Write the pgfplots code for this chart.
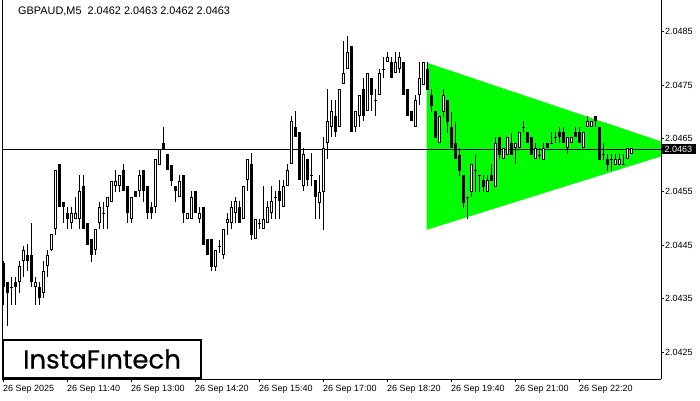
\documentclass[border=0pt]{standalone}
\usepackage{pgfplots}
\pgfplotsset{compat=1.18}
\usepackage{pgfplotstable}
\usepackage{fontspec}
\setmainfont{Liberation Sans}
\newfontfamily\poppins{Poppins}
\definecolor{trigreen}{RGB}{0,255,0}

\pgfplotstableread{
i o h l c
0 2.04416 2.04421 2.04339 2.04372
1 2.04381 2.04382 2.04299 2.04360
2 2.04372 2.04391 2.04339 2.04372
3 2.04381 2.04391 2.04339 2.04371
4 2.04381 2.04421 2.04360 2.04412
5 2.04421 2.04449 2.04391 2.04441
6 2.04432 2.04452 2.04401 2.04421
7 2.04432 2.04491 2.04371 2.04381
8 2.04371 2.04391 2.04339 2.04381
9 2.04371 2.04381 2.04339 2.04351
10 2.04360 2.04421 2.04351 2.04401
11 2.04412 2.04441 2.04391 2.04432
12 2.04441 2.04472 2.04440 2.04471
13 2.04480 2.04591 2.04470 2.04591
14 2.04602 2.04602 2.04521 2.04521
15 2.04531 2.04531 2.04491 2.04521
16 2.04511 2.04521 2.04480 2.04500
17 2.04491 2.04521 2.04480 2.04511
18 2.04500 2.04541 2.04500 2.04511
19 2.04500 2.04582 2.04480 2.04551
20 2.04561 2.04582 2.04480 2.04480
21 2.04491 2.04491 2.04450 2.04450
22 2.04461 2.04461 2.04419 2.04431
23 2.04441 2.04480 2.04431 2.04480
24 2.04491 2.04531 2.04480 2.04521
25 2.04511 2.04531 2.04480 2.04511
26 2.04521 2.04541 2.04480 2.04541
27 2.04531 2.04571 2.04531 2.04571
28 2.04561 2.04591 2.04550 2.04571
29 2.04561 2.04581 2.04550 2.04581
30 2.04591 2.04602 2.04551 2.04551
31 2.04561 2.04561 2.04491 2.04511
32 2.04500 2.04541 2.04491 2.04541
33 2.04551 2.04551 2.04541 2.04541
34 2.04551 2.04591 2.04541 2.04581
35 2.04591 2.04591 2.04531 2.04551
36 2.04561 2.04561 2.04500 2.04511
37 2.04521 2.04531 2.04500 2.04511
38 2.04521 2.04611 2.04511 2.04611
39 2.04601 2.04631 2.04601 2.04631
40 2.04641 2.04672 2.04631 2.04631
41 2.04621 2.04621 2.04591 2.04591
42 2.04601 2.04601 2.04561 2.04571
43 2.04561 2.04561 2.04531 2.04551
44 2.04541 2.04581 2.04541 2.04571
45 2.04581 2.04581 2.04491 2.04511
46 2.04500 2.04511 2.04500 2.04511
47 2.04500 2.04551 2.04500 2.04541
48 2.04551 2.04551 2.04511 2.04511
49 2.04500 2.04521 2.04491 2.04511
50 2.04521 2.04521 2.04450 2.04450
51 2.04461 2.04461 2.04431 2.04431
52 2.04461 2.04461 2.04401 2.04410
53 2.04410 2.04441 2.04401 2.04441
54 2.04449 2.04460 2.04435 2.04449
55 2.04432 2.04480 2.04425 2.04480
56 2.04491 2.04510 2.04469 2.04500
57 2.04491 2.04532 2.04481 2.04521
58 2.04511 2.04541 2.04491 2.04532
59 2.04521 2.04532 2.04491 2.04491
60 2.04500 2.04561 2.04500 2.04561
61 2.04572 2.04611 2.04552 2.04611
62 2.04602 2.04622 2.04460 2.04469
63 2.04461 2.04500 2.04461 2.04500
64 2.04491 2.04500 2.04481 2.04491
65 2.04481 2.04561 2.04481 2.04500
66 2.04491 2.04532 2.04491 2.04521
67 2.04511 2.04561 2.04500 2.04532
68 2.04541 2.04552 2.04500 2.04541
69 2.04552 2.04572 2.04500 2.04532
70 2.04521 2.04572 2.04521 2.04561
71 2.04561 2.04602 2.04561 2.04591
72 2.04602 2.04692 2.04602 2.04682
73 2.04672 2.04702 2.04652 2.04652
74 2.04662 2.04662 2.04572 2.04572
75 2.04561 2.04632 2.04552 2.04621
76 2.04611 2.04611 2.04561 2.04572
77 2.04582 2.04622 2.04561 2.04582
78 2.04572 2.04572 2.04500 2.04541
79 2.04530 2.04582 2.04500 2.04550
80 2.04550 2.04653 2.04479 2.04632
81 2.04641 2.04742 2.04611 2.04682
82 2.04672 2.04722 2.04652 2.04702
83 2.04692 2.04722 2.04652 2.04662
84 2.04672 2.04742 2.04672 2.04742
85 2.04752 2.04833 2.04752 2.04772
86 2.04781 2.04842 2.04781 2.04812
87 2.04823 2.04823 2.04662 2.04662
88 2.04672 2.04702 2.04662 2.04702
89 2.04692 2.04731 2.04672 2.04731
90 2.04742 2.04763 2.04682 2.04692
91 2.04702 2.04772 2.04702 2.04772
92 2.04763 2.04763 2.04702 2.04731
93 2.04722 2.04742 2.04692 2.04722
94 2.04731 2.04781 2.04731 2.04772
95 2.04781 2.04802 2.04763 2.04781
96 2.04793 2.04812 2.04793 2.04802
97 2.04793 2.04802 2.04763 2.04763
98 2.04772 2.04812 2.04772 2.04793
99 2.04781 2.04812 2.04772 2.04802
100 2.04793 2.04793 2.04731 2.04731
101 2.04742 2.04742 2.04692 2.04692
102 2.04702 2.04702 2.04682 2.04682
103 2.04672 2.04731 2.04672 2.04722
104 2.04731 2.04793 2.04713 2.04763
105 2.04750 2.04794 2.04750 2.04794
106 2.04781 2.04794 2.04741 2.04741
107 2.04731 2.04742 2.04700 2.04711
108 2.04701 2.04701 2.04651 2.04651
109 2.04641 2.04692 2.04641 2.04692
110 2.04700 2.04742 2.04691 2.04731
111 2.04722 2.04722 2.04661 2.04681
112 2.04672 2.04700 2.04632 2.04632
113 2.04641 2.04681 2.04611 2.04611
114 2.04620 2.04632 2.04580 2.04590
115 2.04582 2.04582 2.04520 2.04530
116 2.04541 2.04541 2.04499 2.04541
117 2.04550 2.04602 2.04541 2.04602
118 2.04591 2.04620 2.04550 2.04591
119 2.04582 2.04582 2.04550 2.04582
120 2.04572 2.04582 2.04550 2.04560
121 2.04550 2.04582 2.04550 2.04572
122 2.04582 2.04602 2.04571 2.04571
123 2.04560 2.04652 2.04560 2.04641
124 2.04652 2.04652 2.04611 2.04620
125 2.04611 2.04632 2.04611 2.04632
126 2.04620 2.04652 2.04620 2.04652
127 2.04641 2.04661 2.04620 2.04620
128 2.04632 2.04641 2.04602 2.04641
129 2.04632 2.04662 2.04632 2.04662
130 2.04671 2.04683 2.04661 2.04671
131 2.04662 2.04662 2.04641 2.04641
132 2.04652 2.04652 2.04620 2.04620
133 2.04611 2.04641 2.04611 2.04632
134 2.04620 2.04632 2.04611 2.04620
135 2.04610 2.04641 2.04610 2.04632
136 2.04641 2.04641 2.04632 2.04632
137 2.04641 2.04662 2.04640 2.04641
138 2.04652 2.04662 2.04641 2.04652
139 2.04662 2.04671 2.04641 2.04652
140 2.04662 2.04671 2.04641 2.04641
141 2.04632 2.04652 2.04621 2.04652
142 2.04641 2.04652 2.04641 2.04652
143 2.04662 2.04672 2.04652 2.04652
144 2.04662 2.04671 2.04641 2.04641
145 2.04632 2.04662 2.04632 2.04662
146 2.04671 2.04692 2.04671 2.04682
147 2.04671 2.04682 2.04671 2.04682
148 2.04692 2.04692 2.04671 2.04682
149 2.04671 2.04671 2.04610 2.04610
150 2.04621 2.04641 2.04610 2.04621
151 2.04611 2.04621 2.04590 2.04600
152 2.04611 2.04621 2.04590 2.04611
153 2.04600 2.04621 2.04600 2.04611
154 2.04600 2.04621 2.04600 2.04611
155 2.04602 2.04621 2.04600 2.04602
156 2.04611 2.04632 2.04611 2.04632
157 2.04621 2.04632 2.04621 2.04632
}\candles

\begin{document}
\begin{tikzpicture}[x=1pt,y=1pt]
\useasboundingbox (0,0) rectangle (700,400);
\fill[white] (0,0) rectangle (700,400);
\begin{axis}[
  at={(2pt,21pt)}, anchor=south west,
  scale only axis, width=659pt, height=379pt,
  xmin=-0.25, xmax=164.5, ymin=2.041995, ymax=2.049094,
  axis x line*=bottom, axis y line*=right,
  axis line style={black, line width=0.8pt},
  xtick={0,16,...,144},
  xticklabels={26 Sep 2025,26 Sep 11:40,26 Sep 13:00,26 Sep 14:20,26 Sep 15:40,26 Sep 17:00,26 Sep 18:20,26 Sep 19:40,26 Sep 21:00,26 Sep 22:20},
  ytick={2.0425,2.0435,2.0445,2.0455,2.0465,2.0475,2.0485},
  /pgf/number format/fixed,
  /pgf/number format/precision=4,
  /pgf/number format/fixed zerofill,
  /pgf/number format/assume math mode=true,
  tick align=outside, major tick length=3pt,
  tick style={black, line width=0.8pt},
  tick label style={font=\fontsize{9}{10}\selectfont},
  xticklabel style={anchor=north west, inner sep=0pt, xshift=0pt, yshift=-3.5pt},
  yticklabel style={anchor=west, inner sep=0pt, xshift=1pt},
]
% pattern triangle
\addplot[fill=trigreen, draw=none, forget plot] coordinates {(105.9,2.04792) (170.25,2.04630) (105.9,2.04479)};
% current price line
\addplot[black, line width=0.8pt, forget plot] coordinates {(-1,2.0463) (170,2.0463)};
% wicks
\addplot[draw=none, mark=none, forget plot,
  error bars/.cd, y dir=minus, y explicit, error mark=none,
  error bar style={draw=black, line width=1pt}]
  table[x=i, y=h, y error expr=\thisrow{h}-\thisrow{l}] {\candles};
% bodies outline / bearish fill
\addplot[draw=none, mark=none, forget plot,
  error bars/.cd, y dir=minus, y explicit, error mark=none,
  error bar style={draw=black, line width=3pt}]
  table[x=i, y expr={max(\thisrow{o},\thisrow{c})}, y error expr={max(abs(\thisrow{o}-\thisrow{c}),0.000019)}] {\candles};
% bullish inner fill
\addplot[draw=none, mark=none, forget plot,
  error bars/.cd, y dir=minus, y explicit, error mark=none,
  error bar style={draw=white, line width=1pt}]
  table[x=i, y expr={\thisrow{c}-0.0000187}, y error expr={max(\thisrow{c}-\thisrow{o}-0.0000374,0)}] {\candles};
\draw[black, line width=0.8pt] (rel axis cs:0,0) -- (rel axis cs:0,1);
\coordinate (pricept) at (axis cs:164.5,2.0463);
\end{axis}
\node[fill=black, text=white, anchor=west, inner xsep=4pt, inner ysep=1.8pt, font=\fontsize{9}{10}\selectfont] at ([xshift=-0.5pt]pricept) {2.0463};
\node[anchor=west, inner sep=0pt, font=\fontsize{10.9}{12}\selectfont] at (18,389) {GBPAUD,M5\ \ 2.0462 2.0463 2.0462 2.0463};
\draw[black, line width=2pt, fill=white] (3,22) rectangle (201,60);
\node[inner sep=0pt, font=\poppins\addfontfeature{FakeBold=0.5}\fontsize{26}{30}\selectfont] at (102,41) {InstaF\i ntech};
\end{tikzpicture}
\end{document}
